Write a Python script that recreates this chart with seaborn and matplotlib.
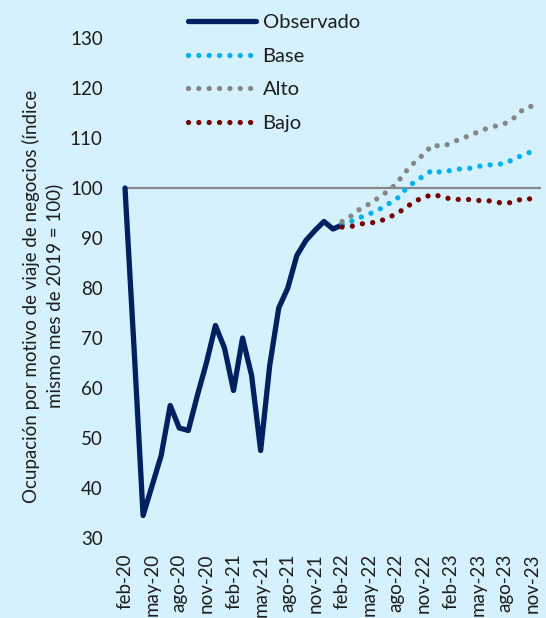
import matplotlib
matplotlib.use("Agg")
import matplotlib.pyplot as plt
import seaborn as sns
import pandas as pd

# ---- data ----
tick_labels = ["feb-20", "may-20", "ago-20", "nov-20", "feb-21", "may-21",
               "ago-21", "nov-21", "feb-22", "may-22", "ago-22", "nov-22",
               "feb-23", "may-23", "ago-23", "nov-23"]
n_months = 47  # feb-20 .. dec-23 category slots on the axis

# Observado: feb-20 .. feb-22
observado = [100, 68, 34.5, 40.5, 46.5, 56.5, 52, 51.5, 58.5, 65, 72.5, 68,
             59.5, 70, 62.5, 47.5, 64.5, 76, 80, 86.5, 89.5, 91.5, 93.3, 91.8, 92.6]

# Escenarios: feb-22 .. nov-23
base = [92.7, 93.3, 94.1, 94.8, 95.6, 96.7, 97.7, 99.7, 101.2, 102.4, 103.6,
        103.1, 103.5, 103.8, 103.9, 104.3, 104.6, 104.7, 104.9, 105.8, 106.6, 107.3]
alto = [93.3, 94.4, 95.8, 96.8, 98.0, 99.3, 100.8, 103.2, 105.1, 106.7, 108.6,
        108.3, 108.9, 109.8, 110.4, 111.2, 111.9, 112.4, 112.9, 114.0, 115.7, 116.4]
bajo = [92.2, 92.3, 92.8, 93.0, 93.2, 94.0, 94.8, 96.0, 97.3, 98.1, 98.7,
        98.3, 97.8, 97.7, 97.7, 97.5, 97.5, 97.2, 96.9, 97.2, 97.9, 97.8]
forecast_start = 24
reference_level = 100

series_names = ["Observado", "Base", "Alto", "Bajo"]

# ---- style ----
bg = "#D4F1FD"
navy = "#002060"
c_base = "#00B0F0"
c_alto = "#868686"
c_bajo = "#7A0000"
text_c = "#1E1E1E"
fs = 13.5
fs_leg = 14.5

sns.set_theme(style="white")
plt.rcParams['font.family'] = ['Lato', 'DejaVu Sans']

W, H = 546, 618
fig = plt.figure(figsize=(W / 100, H / 100), dpi=100, facecolor=bg)
left, right, top, bottom = 125, 541, 38, 538
ax = fig.add_axes([left / W, 1 - bottom / H, (right - left) / W, (bottom - top) / H])
ax.set_facecolor(bg)

obs_df = pd.DataFrame({"mes": list(range(len(observado))), "valor": observado})
fc_months = list(range(forecast_start, forecast_start + len(base)))
fc_df = {
    "Base": pd.DataFrame({"mes": fc_months, "valor": base}),
    "Alto": pd.DataFrame({"mes": fc_months, "valor": alto}),
    "Bajo": pd.DataFrame({"mes": fc_months, "valor": bajo}),
}

ax.axhline(reference_level, color="#878787", lw=1.6, zorder=1)

dot_style = (0, (0.01, 1.95))
lines = []
sns.lineplot(data=obs_df, x="mes", y="valor", ax=ax, color=navy, linewidth=3.8,
             solid_capstyle="round", solid_joinstyle="round", errorbar=None,
             legend=False, zorder=3, clip_on=False)
lines.append(ax.get_lines()[-1])
for name, col in [("Base", c_base), ("Alto", c_alto), ("Bajo", c_bajo)]:
    sns.lineplot(data=fc_df[name], x="mes", y="valor", ax=ax, color=col,
                 linewidth=3.8, linestyle=dot_style, dash_capstyle="round",
                 errorbar=None, legend=False, zorder=4, clip_on=False)
    lines.append(ax.get_lines()[-1])

ax.set_xlim(0, n_months - 1)
ax.set_ylim(30, 130)
ax.set_yticks(range(30, 131, 10))
ax.set_xticks(range(0, 3 * len(tick_labels), 3))
ax.set_xticklabels(tick_labels, rotation=90)
ax.set_xlabel("")
ax.set_ylabel("")
for s in ax.spines.values():
    s.set_visible(False)
ax.tick_params(axis="both", length=0, labelsize=fs, colors=text_c)
ax.tick_params(axis="y", pad=16)
ax.tick_params(axis="x", pad=11)

leg = ax.legend(lines, series_names, loc="upper left",
                bbox_to_anchor=(188 / W, 1 - 14 / H), bbox_transform=fig.transFigure,
                frameon=False, fontsize=fs_leg, handlelength=3.4, handletextpad=0.3,
                labelspacing=0.82, borderpad=0, borderaxespad=0)
for t in leg.get_texts():
    t.set_color(text_c)

fig.text(43 / W, 1 - 296 / H,
         "Ocupación por motivo de viaje de negocios (índice\nmismo mes de 2019 = 100)",
         rotation=90, ha="center", va="center", multialignment="center",
         fontsize=fs, color=text_c, linespacing=1.35)

fig.savefig("out.png", dpi=100, facecolor=bg)
